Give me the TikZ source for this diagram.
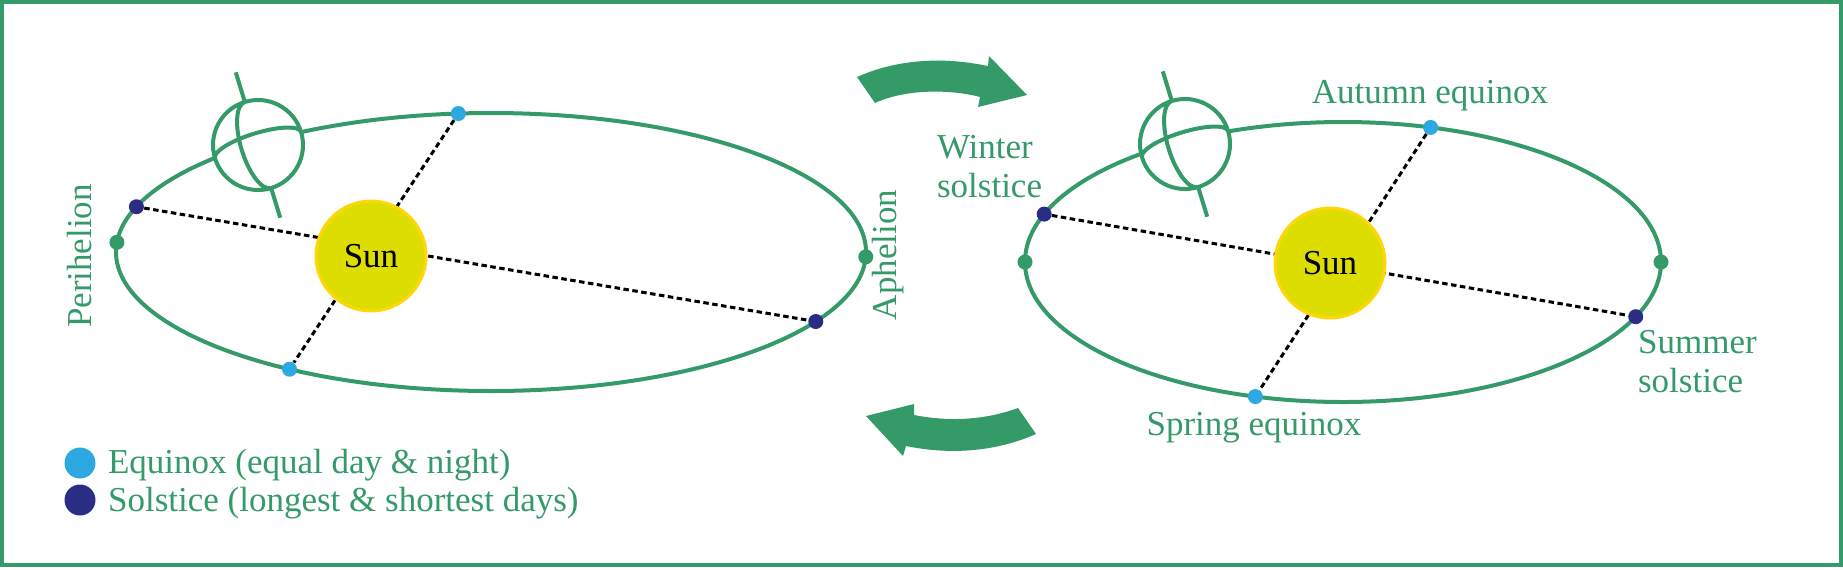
\documentclass[tikz,border=0pt]{standalone}
\usepackage{fontspec}
\setmainfont{Liberation Serif}
\definecolor{orbitgreen}{RGB}{52,154,104}
\definecolor{eqblue}{RGB}{46,168,224}
\definecolor{solnavy}{RGB}{43,45,132}
\definecolor{sunfill}{RGB}{221,221,0}
\definecolor{sunrim}{RGB}{255,214,10}
\begin{document}
\begin{tikzpicture}[x=0.5pt, y=0.5pt]
  \tikzstyle{every node}=[font=\fontsize{17.5}{19.5}\selectfont]
  \tikzstyle{orbit}=[draw=orbitgreen, line width=2pt]
  \tikzstyle{globe}=[draw=orbitgreen, line width=2pt]
  \tikzstyle{dot}=[circle, inner sep=0pt, minimum size=7.5pt]
  \tikzstyle{season}=[draw=black, line width=1.5pt, dash pattern=on 2.75pt off 1.75pt]
  \tikzstyle{sun}=[circle, fill=sunfill, draw=sunrim, line width=1.5pt, minimum size=55pt, inner sep=0pt]
  \tikzstyle{tag}=[text=orbitgreen]

  \useasboundingbox (0,0) rectangle (1843,-569);
  \draw[orbitgreen, line width=2pt] (2,-2) rectangle (1841,-565);

  % orbits
  \draw[orbit] (491,-252) ellipse (375 and 139);
  \draw[orbit] (1343,-262) ellipse (318 and 140);

  % tilted earth on each orbit
  \foreach \gx/\gy in {258/145, 1185/144}
  {
    \begin{scope}[shift={(\gx,-\gy)}, rotate=17]
      \fill[white] (0,0) circle (45);
      \draw[globe] (0,0) circle (45)
        (0,45) arc[start angle=90, end angle=270, x radius=17, y radius=45]
        (-45,0) arc[start angle=180, end angle=0, x radius=45, y radius=12]
        (0,45) -- (0,76) (0,-45) -- (0,-76);
    \end{scope}
  }

  % points on the left orbit
  \path (491,-252) ++(176:375 and 139) node[dot, fill=orbitgreen] (lperi) {};
  \path (491,-252) ++(-2:375 and 139) node[dot, fill=orbitgreen] (laph) {};
  \path (491,-252) ++(161:375 and 139) node[dot, fill=solnavy] (lwin) {};
  \path (491,-252) ++(-30:375 and 139) node[dot, fill=solnavy] (lsum) {};
  \path (491,-252) ++(95:375 and 139) node[dot, fill=eqblue] (laut) {};
  \path (491,-252) ++(237.5:375 and 139) node[dot, fill=eqblue] (lspr) {};

  % points on the right orbit
  \path (1343,-262) ++(180:318 and 140) node[dot, fill=orbitgreen] (rperi) {};
  \path (1343,-262) ++(0:318 and 140) node[dot, fill=orbitgreen] (raph) {};
  \path (1343,-262) ++(160:318 and 140) node[dot, fill=solnavy] (rwin) {};
  \path (1343,-262) ++(-23:318 and 140) node[dot, fill=solnavy] (rsum) {};
  \path (1343,-262) ++(74:318 and 140) node[dot, fill=eqblue] (raut) {};
  \path (1343,-262) ++(254:318 and 140) node[dot, fill=eqblue] (rspr) {};

  \draw[season]
    (lwin) -- (lsum)
    (laut) -- (lspr)
    (rwin) -- (rsum)
    (raut) -- (rspr);

  \node[sun] (lsun) at (371,-256) {Sun};
  \node[sun] (rsun) at (1330,-263) {Sun};

  % labels
  \node[tag, rotate=90] at (80,-256) {Perihelion};
  \node[tag, rotate=90] at (888,-255) {Aphelion};
  \node[tag, align=left, anchor=west] at (930,-167) {Winter\\solstice};
  \node[tag, align=left, anchor=west] at (1631,-362) {Summer\\solstice};
  \node[tag, anchor=base] at (1430,-103) {Autumn equinox};
  \node[tag, anchor=base] at (1254,-435) {Spring equinox};

  % turning arrows
  \fill[orbitgreen] (857,-77) .. controls (895,-60) and (940,-56) .. (988,-66)
    -- (989,-56) -- (1027,-95) -- (978,-107) -- (980,-97)
    .. controls (950,-89) and (905,-89) .. (875,-103) -- cycle;
  \fill[orbitgreen] (1018,-408) .. controls (985,-420) and (950,-422) .. (914,-415)
    -- (914,-404) -- (866,-416) -- (903,-456) -- (906,-446)
    .. controls (950,-455) and (995,-452) .. (1036,-434) -- cycle;

  % key
  \node[dot, fill=eqblue, minimum size=15.5pt] (keyeq) at (80,-463) {};
  \node[dot, fill=solnavy, minimum size=15.5pt] (keysol) at (80,-500) {};
  \node[tag, anchor=base west] at (101,-473) {Equinox (equal day \& night)};
  \node[tag, anchor=base west] at (101,-511) {Solstice (longest \& shortest days)};
\end{tikzpicture}
\end{document}
